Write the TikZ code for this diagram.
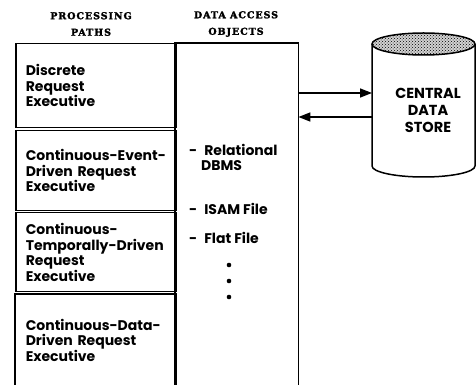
\documentclass[tikz,border=0pt]{standalone}
\usepackage{fontspec}
\setsansfont{Poppins}
\newfontfamily\headfont[LetterSpace=10, BoldFeatures={FakeBold=2}]{DejaVu Serif}
\usetikzlibrary{arrows.meta,patterns}

\tikzset{
  rule/.style={line width=1.5pt},
  head/.style={align=center, inner sep=0pt, font=\headfont\bfseries\fontsize{9.5}{16.5}\selectfont},
  pathbox/.style={rule, draw, anchor=north west, inner sep=0pt,
    minimum width=160pt, text width=140pt, align=left,
    font=\sffamily\bfseries\fontsize{14}{15.5}\selectfont},
  item/.style={anchor=west, inner sep=0pt, align=left,
    font=\sffamily\bfseries\fontsize{14}{15}\selectfont},
  store/.style={align=center, inner sep=0pt,
    font=\sffamily\bfseries\fontsize{14.5}{17}\selectfont},
  flow/.style={rule, -{Triangle[length=12pt,width=9pt]}}
}

\begin{document}
\begin{tikzpicture}[x=1pt,y=1pt]
  \useasboundingbox (0,0) rectangle (476,385);

  % column headings
  \node[head] (hpaths) at (91,361) {PROCESSING\\PATHS};
  \node[head] (hobjs) at (236,361) {DATA ACCESS\\OBJECTS};

  % processing paths
  \node[pathbox, minimum height=84pt] (discrete) at (15,342)
    {Discrete\\Request\\Executive};
  \node[pathbox, minimum height=80pt] (event) at (15,255)
    {\mbox{Continuous-Event-}\\Driven Request\\Executive};
  \node[pathbox, minimum height=79pt] (temporal) at (15,173)
    {Continuous-\\\mbox{Temporally-Driven}\\Request\\Executive};
  \node[pathbox, draw=none, minimum height=91pt] (data) at (15,91)
    {\mbox{Continuous-Data-}\\Driven Request\\Executive};
  \draw[rule] (data.south west) -- (data.north west) -- (data.north east) -- (data.south east);

  % data access objects
  \node[anchor=north west, inner sep=0pt, minimum width=123pt, minimum height=342pt] (objects) at (175,342) {};
  \draw[rule] (objects.south west) -- (objects.north west) -- (objects.north east) -- (objects.south east);
  \node[item] (rdbms) at (189,227.5) {-\hspace{7pt}Relational\\\hspace{12pt}DBMS};
  \node[item] (isam) at (189,176) {-\hspace{7pt}ISAM File};
  \node[item] (flat) at (189,147) {-\hspace{7pt}Flat File};
  \foreach \y in {120,104,88}
    \fill (229,\y) circle (2.3pt);

  % central store
  \node[store] (store) at (428,275) {CENTRAL\\DATA\\STORE};
  \draw[rule] (372,341) -- (372,219) arc (180:360:51.5 and 11) -- (475,341);
  \fill[gray!35] (423.5,341) ellipse (51.5 and 11);
  \draw[rule, pattern=crosshatch dots] (423.5,341) ellipse (51.5 and 11);
  \coordinate (sin) at (372,292);
  \coordinate (sout) at (372,268);

  \draw[flow] (objects.east |- sin) -- (sin);
  \draw[flow] (sout) -- (objects.east |- sout);
\end{tikzpicture}
\end{document}
